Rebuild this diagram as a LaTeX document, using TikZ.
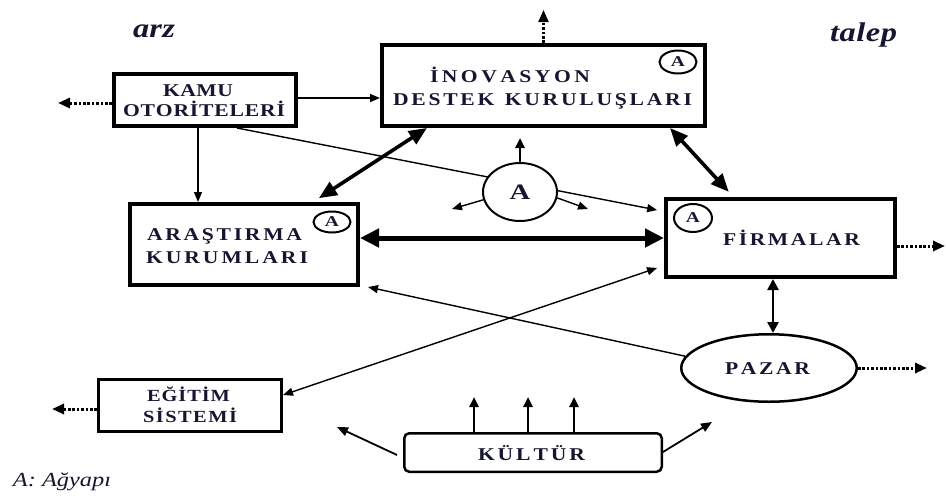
\documentclass[tikz,border=0pt]{standalone}
\usepackage{fontspec}
\usepackage{graphicx}
\setmainfont{Liberation Serif}
\usetikzlibrary{arrows.meta,shapes.geometric,backgrounds}
\definecolor{ink}{RGB}{22,22,48}
% wide lettering: glyphs widened by 1.2, letters spread evenly over a given width
\newcommand\spreadbox[2]{\scalebox{1.2}[1]{\makebox[\dimexpr#1*10/12\relax][s]{#2}}}
\newcommand\wide[1]{\scalebox{1.3}[1]{#1}}

\begin{document}
\begin{tikzpicture}[x=1pt,y=-1pt,
  frame/.style={draw, rectangle, line width=4pt, inner sep=0pt},
  framethin/.style={draw, rectangle, line width=3pt, inner sep=0pt},
  oval/.style={draw, ellipse, line width=2pt, inner sep=0pt, fill=white},
  lbl/.style={inner sep=0pt, anchor=base, text=ink, font=\fontsize{18}{21}\selectfont\bfseries},
  ital/.style={inner sep=0pt, anchor=base, text=ink, font=\fontsize{27}{30}\selectfont\bfseries\itshape},
  smallA/.style={text=ink, font=\fontsize{15}{17}\selectfont\bfseries},
  thinarrow/.style={line width=1.4pt, -{Triangle[length=10pt,width=8pt]}},
  thindbl/.style={line width=1.4pt, {Triangle[length=10pt,width=8pt]}-{Triangle[length=10pt,width=8pt]}},
  medarrow/.style={line width=2.4pt, -{Triangle[length=10pt,width=9pt]}},
  meddbl/.style={line width=2.4pt, {Triangle[length=11pt,width=11pt]}-{Triangle[length=11pt,width=11pt]}},
  thickdbl/.style={line width=3.6pt, {Triangle[length=18pt,width=15pt]}-{Triangle[length=18pt,width=15pt]}},
  heavydbl/.style={line width=5pt, {Triangle[length=19pt,width=18pt]}-{Triangle[length=19pt,width=18pt]}},
  dotarrow/.style={line width=3pt, dash pattern=on 2.6pt off 1.8pt, -{Triangle[length=12pt,width=10pt]}}
]
\useasboundingbox (0,0) rectangle (946,496);
\begin{scope}[on background layer]
  \fill[white] (0,0) rectangle (946,496);
\end{scope}

% boxes
\node[frame, minimum width=182pt, minimum height=52pt] (kamu) at (205,100) {};
\node[frame, minimum width=323pt, minimum height=81pt] (inov) at (543.5,85.5) {};
\node[frame, minimum width=228pt, minimum height=81pt] (arast) at (244,244.5) {};
\node[frame, minimum width=229pt, minimum height=78pt] (firma) at (780.5,238) {};
\node[framethin, minimum width=183pt, minimum height=52pt] (egitim) at (190,405.5) {};
\node[draw, rectangle, rounded corners=5pt, line width=2.5pt, minimum width=257.5pt, minimum height=38.5pt, inner sep=0pt] (kultur) at (533,452.5) {};
\node[draw, ellipse, line width=2.5pt, minimum width=175.5pt, minimum height=67.5pt, inner sep=0pt] (pazar) at (769,368) {};

% box texts
\node[lbl] (kamu-l1) at (198,96.5) {\spreadbox{70pt}{K\hfil A\hfil M\hfil U}};
\node[lbl] (kamu-l2) at (204,116.5) {\spreadbox{162pt}{O\hfil T\hfil O\hfil R\hfil İ\hfil T\hfil E\hfil L\hfil E\hfil R\hfil İ}};
\node[lbl] (inov-l1) at (510,82) {\spreadbox{160pt}{İ\hfil N\hfil O\hfil V\hfil A\hfil S\hfil Y\hfil O\hfil N}};
\node[lbl] (inov-l2) at (542.5,105.5) {\spreadbox{299pt}{D\hfil E\hfil S\hfil T\hfil E\hfil K\hfil\hspace{4pt}\hfil K\hfil U\hfil R\hfil U\hfil L\hfil U\hfil Ş\hfil L\hfil A\hfil R\hfil I}};
\node[lbl] (arast-l1) at (224.5,240) {\spreadbox{155pt}{A\hfil R\hfil A\hfil Ş\hfil T\hfil I\hfil R\hfil M\hfil A}};
\node[lbl] (arast-l2) at (227,263) {\spreadbox{162pt}{K\hfil U\hfil R\hfil U\hfil M\hfil L\hfil A\hfil R\hfil I}};
\node[lbl] (firma-l) at (791.5,245) {\spreadbox{137pt}{F\hfil İ\hfil R\hfil M\hfil A\hfil L\hfil A\hfil R}};
\node[lbl, font=\fontsize{17}{20}\selectfont\bfseries] (egitim-l1) at (188.5,401.5) {\spreadbox{83pt}{E\hfil Ğ\hfil İ\hfil T\hfil İ\hfil M}};
\node[lbl, font=\fontsize{17}{20}\selectfont\bfseries] (egitim-l2) at (190,422.5) {\spreadbox{94pt}{S\hfil İ\hfil S\hfil T\hfil E\hfil M\hfil İ}};
\node[lbl] (kultur-l) at (531.5,460) {\spreadbox{107pt}{K\hfil Ü\hfil L\hfil T\hfil Ü\hfil R}};
\node[lbl] (pazar-l) at (767.5,374) {\spreadbox{85pt}{P\hfil A\hfil Z\hfil A\hfil R}};

% network marks
\node[oval, minimum width=37pt, minimum height=23pt, smallA] (inov-a) at (678,62) {\wide{A}};
\node[oval, minimum width=37pt, minimum height=21pt, smallA] (arast-a) at (332,222) {\wide{A}};
\node[oval, minimum width=38pt, minimum height=28pt, smallA] (firma-a) at (693,218) {\wide{A}};

% side headings and key
\node[ital] (arz) at (154,37) {\spreadbox{42pt}{a\hfil r\hfil z}};
\node[ital] (talep) at (863.5,41) {\spreadbox{67pt}{t\hfil a\hfil l\hfil e\hfil p}};
\node[inner sep=0pt, anchor=base, text=ink, font=\fontsize{20}{24}\selectfont\itshape] (key) at (62,486) {\scalebox{1.22}[1]{A: Ağyapı}};

% free ends
\coordinate (kamu-out) at (58,103);
\coordinate (inov-out) at (543.5,10);
\coordinate (firma-out) at (945,246);
\coordinate (pazar-out) at (927,368);
\coordinate (egitim-out) at (52,409);
\coordinate (agA-up) at (520,138);
\coordinate (agA-l) at (452,209);
\coordinate (agA-r) at (588,209);
\coordinate (ku1) at (474,397);
\coordinate (ku2) at (528,397);
\coordinate (ku3) at (574,397);
\coordinate (kul-l) at (337,427);
\coordinate (kul-r) at (712,422);

% public authorities to firms, passing under the central network
\begin{scope}[on background layer]
  \draw[thinarrow, shorten >=7pt] ([xshift=32pt]kamu.south) -- ([yshift=26.6pt]firma.west);
\end{scope}

% central network
\node[oval, minimum width=74pt, minimum height=58pt, text=ink, font=\fontsize{22}{24}\selectfont\bfseries] (agA) at (520,192) {\wide{A}};
\draw[medarrow] (agA.north) -- (agA-up);
\draw[thinarrow] (agA.192) -- (agA-l);
\draw[thinarrow] (agA.351) -- (agA-r);

% links
\draw[thinarrow] ([yshift=2pt]kamu.east) -- ([yshift=2pt]kamu.east -| inov.west);
\draw[thinarrow] ([xshift=-7pt]kamu.south) -- ([xshift=-7pt]kamu.south |- arast.north);
\draw[thickdbl, shorten <=7pt] ([xshift=69pt]arast.north) -- ([xshift=-116.5pt]inov.south);
\draw[thickdbl, shorten >=7pt] ([xshift=126.5pt]inov.south) -- ([xshift=-47pt]firma.north);
\draw[heavydbl] ([yshift=6.5pt]arast.east) -- ([yshift=6.5pt]arast.east -| firma.west);
\draw[meddbl] ([xshift=-7.5pt]firma.south) -- ([xshift=-7.5pt]firma.south |- pazar.north);
\draw[thinarrow] (pazar.172) -- ([xshift=8pt]arast.south east);
\draw[thindbl, shorten >=7.3pt] ([yshift=10.5pt]egitim.east) -- ([yshift=-27.6pt]firma.west);

% culture
\draw[medarrow] ([xshift=-59pt]kultur.north) -- (ku1);
\draw[medarrow] ([xshift=-5pt]kultur.north) -- (ku2);
\draw[medarrow] ([xshift=41pt]kultur.north) -- (ku3);
\draw[line width=1.8pt, -{Triangle[length=11pt,width=9pt]}] ([xshift=-6pt,yshift=-2.5pt]kultur.west) -- (kul-l);
\draw[line width=1.8pt, -{Triangle[length=11pt,width=9pt]}] ([yshift=0.5pt]kultur.east) -- (kul-r);

% outward flows
\draw[dotarrow] ([yshift=-3pt]kamu.west) -- (kamu-out);
\draw[dotarrow, line width=2.2pt] (inov.north) -- (inov-out);
\draw[dotarrow] ([yshift=-8pt]firma.east) -- (firma-out);
\draw[dotarrow] (pazar.east) -- (pazar-out);
\draw[dotarrow] ([yshift=-3.5pt]egitim.west) -- (egitim-out);
\end{tikzpicture}
\end{document}
